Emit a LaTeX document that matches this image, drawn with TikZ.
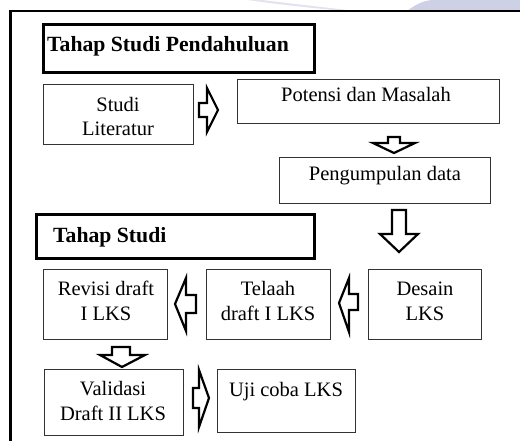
\documentclass[tikz,border=0pt]{standalone}
\usepackage{fontspec}
\setmainfont{Liberation Serif}
\usetikzlibrary{calc}
\definecolor{wm}{RGB}{206,209,230}
\begin{document}
\begin{tikzpicture}[x=1pt,y=-1pt,
  box/.style={draw=black!80, line width=1pt, fill=white, inner sep=0pt, anchor=north west},
  headbox/.style={draw=black, line width=3pt, fill=white, inner sep=0pt, anchor=north west},
  txt/.style={inner sep=0pt, anchor=base, align=center, font=\fontsize{20.5}{24.5}\selectfont},
  htxt/.style={inner sep=0pt, anchor=base west, font=\fontsize{21.7}{24}\selectfont\bfseries},
  blk/.style={draw=black, line width=2.2pt, fill=white, line join=miter}]
\useasboundingbox (0,0) rectangle (520,441);
% watermark
\fill[wm] (407,11) .. controls (415,5) and (422,1) .. (432,0) -- (520,0) -- (520,11) -- cycle;
\fill[wm!60] (248,0) -- (262,0) .. controls (295,4) and (330,8) .. (356,11) -- (345,11) .. controls (310,8) and (275,4) .. (248,0) -- cycle;
% frame
\draw[line width=2.6pt] (520,11) -- (10.5,11) -- (10.5,441);
% headings
\node[headbox, minimum width=271pt, minimum height=48pt] (h1) at (42,23) {};
\node[htxt] (h1t) at (47,52) {Tahap Studi Pendahuluan};
\node[headbox, minimum width=278pt, minimum height=44pt] (h2) at (35,213) {};
\node[htxt] (h2t) at (53,243) {Tahap Studi};
% boxes
\node[box, minimum width=150pt, minimum height=60pt] (lit) at (43,84) {};
\node[txt] (litt) at (118,136) {Studi\\Literatur};
\node[box, minimum width=262pt, minimum height=44pt] (pot) at (237,79) {};
\node[txt] (pott) at (366,102) {Potensi dan Masalah};
\node[box, minimum width=211pt, minimum height=46pt] (peng) at (279,157) {};
\node[txt] (pengt) at (385,181) {Pengumpulan data};
\node[box, minimum width=124pt, minimum height=70pt] (rev) at (43,269) {};
\node[txt] (revt) at (106,320) {Revisi draft\\I LKS};
\node[box, minimum width=124pt, minimum height=70pt] (tel) at (206,269) {};
\node[txt] (telt) at (268,320) {Telaah\\draft I LKS};
\node[box, minimum width=113pt, minimum height=70pt] (des) at (368,269) {};
\node[txt] (dest) at (425,320) {Desain\\LKS};
\node[box, minimum width=139pt, minimum height=66pt] (val) at (44,369) {};
\node[txt] (valt) at (113,420) {Validasi\\Draft II LKS};
\node[box, minimum width=138pt, minimum height=63pt] (uji) at (217,369) {};
\node[txt] (ujit) at (286,396) {Uji coba LKS};
% block arrows
\draw[blk] (199,103) -- (207,103) -- (207,88) -- (218,110) -- (207,132) -- (207,117) -- (199,117) -- cycle;
\draw[blk] (388,137) -- (400,137) -- (400,143) -- (415,143) -- (394,153) -- (373,143) -- (388,143) -- cycle;
\draw[blk] (392,210) -- (406,210) -- (406,234) -- (418,234) -- (399,252) -- (380,234) -- (392,234) -- cycle;
\draw[blk] (196,295) -- (186,295) -- (186,278) -- (175,304) -- (186,331) -- (186,313) -- (196,313) -- cycle;
\draw[blk] (358,294) -- (349,294) -- (349,278) -- (339,303) -- (349,332) -- (349,310) -- (358,310) -- cycle;
\draw[blk] (112,347) -- (130,347) -- (130,355) -- (145,355) -- (122,367) -- (100,355) -- (112,355) -- cycle;
\draw[blk] (193,388) -- (199,388) -- (199,370) -- (209,398) -- (199,427) -- (199,408) -- (193,408) -- cycle;
\end{tikzpicture}
\end{document}
